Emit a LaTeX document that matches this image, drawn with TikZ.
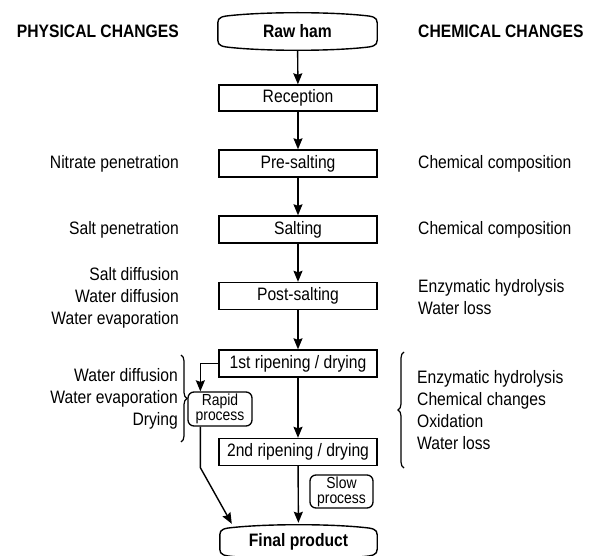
\documentclass[tikz,border=0pt]{standalone}
\usepackage{fontspec}
\setmainfont{Liberation Sans}[FakeStretch=0.87]
\usetikzlibrary{arrows.meta,calc,decorations.pathreplacing}
\newcommand\termshape[1]{%
 \draw[boxline] ($(#1.north west)+(0,10)$) .. controls ($(#1.north west)+(0,4)$) and ($(#1.north west)+(5,3.5)$) .. ($(#1.north west)+(14,2.6)$)
   .. controls ($(#1.north west)+(50,-1)$) and ($(#1.north east)+(-50,-1)$) .. ($(#1.north east)+(-14,2.6)$)
   .. controls ($(#1.north east)+(-5,3.5)$) and ($(#1.north east)+(0,4)$) .. ($(#1.north east)+(0,10)$)
   -- ($(#1.south east)+(0,-10)$) .. controls ($(#1.south east)+(0,-4)$) and ($(#1.south east)+(-5,-3.5)$) .. ($(#1.south east)+(-14,-2.6)$)
   .. controls ($(#1.south east)+(-50,1)$) and ($(#1.south west)+(50,1)$) .. ($(#1.south west)+(14,-2.6)$)
   .. controls ($(#1.south west)+(5,-3.5)$) and ($(#1.south west)+(0,-4)$) .. ($(#1.south west)+(0,-10)$) -- cycle;}
\begin{document}
\begin{tikzpicture}[x=1pt,y=-1pt,
  font=\fontsize{18}{22}\selectfont,
  boxline/.style={line width=1.4pt},
  stepbox/.style={draw,line width=1.4pt,minimum width=158pt,minimum height=27pt,inner sep=0pt},
  term/.style={minimum width=159pt,minimum height=37pt,inner sep=0pt,font=\fontsize{18}{22}\selectfont\bfseries},
  procbox/.style={draw,line width=1.3pt,rounded corners=6pt,inner sep=0pt,align=center,font=\fontsize{16}{15}\selectfont},
  arr/.style={line width=1.4pt,-{Stealth[length=11pt,width=9pt,inset=1.5pt]}},
  lefttxt/.style={anchor=east,align=right,inner sep=0pt},
  righttxt/.style={anchor=west,align=left,inner sep=0pt},
  hdr/.style={inner sep=0pt,font=\fontsize{18}{22}\selectfont\bfseries},
  brc/.style={decorate,decoration={brace,amplitude=6pt},line width=1.2pt}]
\useasboundingbox (0,0) rectangle (600,556);

% headers
\node[hdr,anchor=east] (hphys) at (179,31.5) {PHYSICAL CHANGES};
\node[hdr,anchor=west] (hchem) at (418,31.5) {CHEMICAL CHANGES};

% main column
\node[term] (raw) at (297.5,31.5) {Raw ham};
\termshape{raw}
\node[stepbox,minimum height=26pt] (rec) at (298,98) {Reception};
\node[stepbox] (pre) at (298,163.5) {Pre-salting};
\node[stepbox] (salt) at (298,229.5) {Salting};
\node[stepbox] (post) at (298,296) {Post-salting};
\node[stepbox] (r1) at (298,363.5) {1st ripening / drying};
\node[stepbox] (r2) at (298,452) {2nd ripening / drying};
\node[term,minimum width=157pt,minimum height=34pt] (final) at (298.5,542) {Final product};
\termshape{final}

\node[procbox,minimum width=64pt,minimum height=34pt] (rapid) at (220,409) {Rapid\\process};
\node[procbox,minimum width=63pt,minimum height=33pt] (slow) at (341.5,491.5) {Slow\\process};

% connectors
\draw[arr] (raw) -- (rec);
\draw[arr] (rec) -- (pre);
\draw[arr] (pre) -- (salt);
\draw[arr] (salt) -- (post);
\draw[arr] (post) -- (r1);
\draw[arr] (r1) -- (r2);
\draw[arr,shorten >=2pt] (r2) -- (final);
\coordinate (rin) at ([xshift=13pt]rapid.north west);
\coordinate (rout) at ([xshift=13pt]rapid.south west);
\coordinate (bend) at ($(rout)+(0,41)$);
\coordinate (fin) at ($(final.north west)+(12,-1)$);
\draw[arr] (r1.west) -| (rin);
\draw[arr] (rout) -- (bend) -- (fin);

% physical changes
\node[lefttxt] (p1) at (179,163.5) {Nitrate penetration};
\node[lefttxt] (p2) at (179,229.5) {Salt penetration};
\node[lefttxt] (p3) at (179,298) {Salt diffusion\\Water diffusion\\Water evaporation};
\node[lefttxt] (p4) at (178,399) {Water diffusion\\Water evaporation\\Drying};
\draw[brc] (181,355) -- (181,442);

% chemical changes
\node[righttxt] (c1) at (418,163.5) {Chemical composition};
\node[righttxt] (c2) at (418,229.5) {Chemical composition};
\node[righttxt] (c3) at (418,297) {Enzymatic hydrolysis\\Water loss};
\node[righttxt] (c4) at (417,410) {Enzymatic hydrolysis\\Chemical changes\\Oxidation\\Water loss};
\draw[brc] (404,468) -- (404,352);
\end{tikzpicture}
\end{document}
